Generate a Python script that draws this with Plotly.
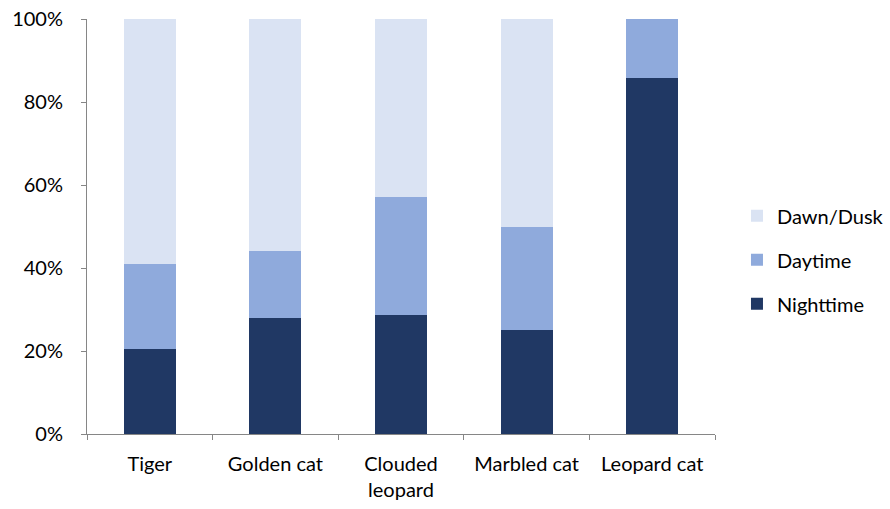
import plotly.graph_objects as go

# Share of camera-trap detections by activity period for each species (%)
species = ["Tiger", "Golden cat", "Clouded<br>leopard", "Marbled cat", "Leopard cat"]
nighttime = [20.4, 28.0, 28.6, 25.0, 85.7]
daytime = [20.5, 16.0, 28.5, 25.0, 14.3]
dawn_dusk = [59.1, 56.0, 42.9, 50.0, 0.0]

colors = {"Nighttime": "#203864", "Daytime": "#8FAADC", "Dawn/Dusk": "#DAE3F3"}
font = "Lato, Open Sans, sans-serif"

fig = go.Figure()
series = [("Nighttime", nighttime, 3), ("Daytime", daytime, 2), ("Dawn/Dusk", dawn_dusk, 1)]
for name, vals, rank in series:
    fig.add_trace(go.Bar(
        x=species, y=vals, name=name, legendgroup=name, legendrank=rank,
        marker=dict(color=colors[name], line=dict(width=0)),
        hoverinfo="x+y+name",
    ))

fig.update_layout(
    barmode="stack",
    bargap=0.585,
    width=890, height=509,
    margin=dict(l=87, r=175, t=19, b=75, autoexpand=False),
    plot_bgcolor="white", paper_bgcolor="white",
    font=dict(family=font, size=20, color="#000000"),
    showlegend=True,
    legend=dict(
        x=1.035, y=0.42, xanchor="left", yanchor="middle",
        traceorder="grouped", tracegroupgap=15,
        font=dict(size=20), itemwidth=30,
    ),
)
fig.update_yaxes(
    range=[0, 100], tickvals=[0, 20, 40, 60, 80, 100],
    ticktext=["0%", "20%", "40%", "60%", "80%", "100%"],
    showgrid=False, showline=True, linecolor="#868686", linewidth=1,
    ticks="outside", ticklen=5, tickcolor="#868686", zeroline=False,
    ticklabelstandoff=14, automargin=False,
)
fig.update_xaxes(
    showgrid=False, showline=True, linecolor="#868686", linewidth=1,
    ticks="outside", ticklen=5, tickcolor="#868686", tickson="boundaries",
    ticklabelstandoff=12, automargin=False,
)

fig.write_html("out.html")
